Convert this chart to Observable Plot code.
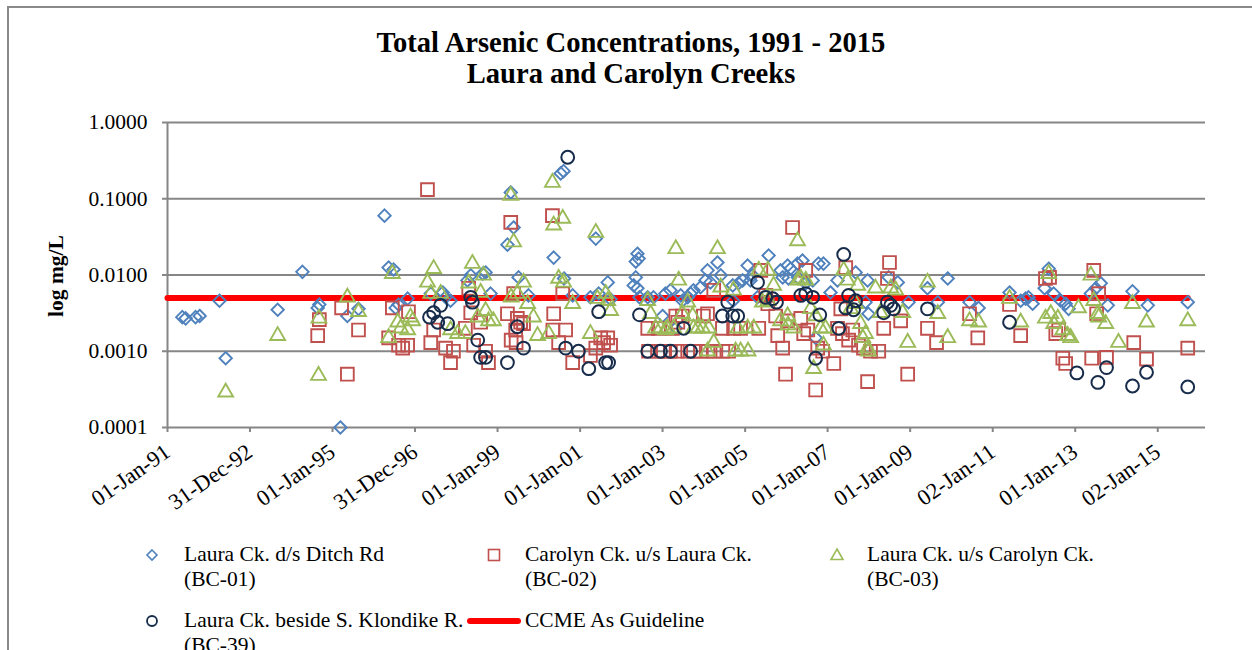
<!DOCTYPE html>
<html><head><meta charset="utf-8">
<script src="https://cdn.jsdelivr.net/npm/d3@7"></script>
<script src="https://cdn.jsdelivr.net/npm/@observablehq/plot@0.6"></script>
<style>
body{margin:0;background:#fff;}
#wrap{position:relative;width:1252px;height:650px;overflow:hidden;font-family:"Liberation Serif",serif;color:#000;}
#frame{position:absolute;left:7px;top:6px;width:1400px;height:800px;border-left:2px solid #8a8a8a;border-top:2px solid #8a8a8a;}
#chart{position:absolute;left:0;top:0;}
#title{position:absolute;left:0;width:1262px;top:27px;text-align:center;font-weight:bold;font-size:28.6px;line-height:31px;}
#ylab{position:absolute;left:56px;top:276px;transform:translate(-50%,-50%) rotate(-90deg);font-weight:bold;font-size:21.5px;white-space:nowrap;}
.lg{position:absolute;font-size:21.5px;line-height:25px;white-space:nowrap;}
.sw{position:absolute;}
</style>
</head><body>
<div id="wrap">
<div id="frame"></div>
<div id="chart"></div>
<div id="title">Total Arsenic Concentrations, 1991 - 2015<br>Laura and Carolyn Creeks</div>
<div id="ylab">log mg/L</div>
<div id="legend"></div>
</div>
<script>
// ---- data: [decimal year, mg/L] ----
const bc01 = [[1991.36,0.0028],[1991.44,0.0027],[1991.68,0.0028],[1991.78,0.0029],[1992.26,0.0046],[1992.41,0.00081],[1993.67,0.0035],[1994.27,0.011],[1994.64,0.0037],[1994.68,0.0041],[1995.19,0.0001],[1995.36,0.0029],[1995.63,0.0036],[1996.26,0.060],[1996.36,0.0125],[1996.48,0.0118],[1996.53,0.0037],[1996.60,0.0041],[1996.82,0.0049],[1997.38,0.0057],[1997.67,0.0059],[1997.74,0.0051],[1997.86,0.0046],[1998.27,0.0085],[1998.35,0.0099],[1998.64,0.0104],[1998.71,0.0108],[1998.83,0.0057],[1999.24,0.025],[1999.32,0.121],[1999.39,0.042],[1999.51,0.0093],[1999.75,0.0054],[2000.36,0.0169],[2000.53,0.215],[2000.60,0.23],[2000.61,0.0090],[2000.82,0.0054],[2001.25,0.0051],[2001.38,0.030],[2001.45,0.0057],[2001.67,0.0080],[2001.74,0.0048],[2002.30,0.0073],[2002.35,0.015],[2002.35,0.0093],[2002.39,0.019],[2002.39,0.0067],[2002.42,0.0164],[2002.44,0.0051],[2002.64,0.0051],[2002.78,0.0051],[2003.00,0.0029],[2003.07,0.0057],[2003.19,0.0063],[2003.32,0.0020],[2003.44,0.0054],[2003.48,0.0046],[2003.61,0.0051],[2003.68,0.0057],[2003.75,0.0063],[2003.92,0.0069],[2004.04,0.0085],[2004.09,0.0115],[2004.16,0.0080],[2004.33,0.0146],[2004.41,0.0099],[2004.70,0.0073],[2004.71,0.0046],[2004.84,0.0078],[2004.94,0.0085],[2005.06,0.0133],[2005.13,0.0085],[2005.18,0.0099],[2005.30,0.0051],[2005.57,0.018],[2005.86,0.0115],[2005.91,0.0093],[2006.03,0.0133],[2006.05,0.0090],[2006.10,0.0121],[2006.27,0.0141],[2006.28,0.0093],[2006.39,0.0155],[2006.47,0.0078],[2006.64,0.0085],[2006.71,0.0015],[2006.78,0.0141],[2006.90,0.0141],[2007.07,0.0059],[2007.24,0.0085],[2007.68,0.0108],[2007.92,0.0044],[2007.97,0.0085],[2007.99,0.0031],[2008.48,0.0093],[2008.70,0.0080],[2008.96,0.0044],[2009.42,0.0067],[2009.67,0.0044],[2009.91,0.0090],[2010.44,0.0044],[2010.66,0.0037],[2011.41,0.0059],[2011.68,0.0046],[2011.80,0.0049],[2011.87,0.0051],[2011.97,0.0042],[2012.26,0.0067],[2012.36,0.0121],[2012.48,0.0057],[2012.65,0.0046],[2012.77,0.0042],[2012.84,0.0036],[2013.38,0.0057],[2013.50,0.0067],[2013.62,0.0078],[2013.79,0.0040],[2014.39,0.0061],[2014.76,0.0040],[2015.73,0.0044]];

const bc02 = [[1994.64,0.0016],[1994.68,0.0026],[1995.22,0.0037],[1995.36,0.00050],[1995.63,0.0019],[1996.36,0.0015],[1996.45,0.0037],[1996.60,0.0012],[1996.70,0.0011],[1996.82,0.0012],[1996.84,0.0033],[1997.30,0.132],[1997.38,0.0013],[1997.45,0.0019],[1997.74,0.0011],[1997.86,0.00071],[1997.93,0.0010],[1998.22,0.0020],[1998.30,0.0067],[1998.35,0.0032],[1998.42,0.0012],[1998.59,0.0024],[1998.71,0.0010],[1998.78,0.00071],[1999.24,0.0031],[1999.32,0.049],[1999.33,0.0014],[1999.39,0.0057],[1999.44,0.0019],[1999.45,0.0013],[1999.48,0.0027],[1999.56,0.0024],[1999.63,0.0023],[2000.33,0.060],[2000.34,0.0019],[2000.36,0.0031],[2000.48,0.0013],[2000.58,0.0057],[2000.65,0.0019],[2000.82,0.00071],[2001.25,0.00088],[2001.38,0.0011],[2001.50,0.0015],[2001.57,0.0013],[2001.67,0.0015],[2001.74,0.0012],[2002.64,0.0020],[2002.66,0.0010],[2002.88,0.0010],[2002.90,0.0020],[2003.02,0.0010],[2003.19,0.0010],[2003.24,0.0020],[2003.32,0.0029],[2003.36,0.0010],[2003.37,0.0024],[2003.48,0.0029],[2003.61,0.0010],[2003.75,0.0010],[2003.92,0.0010],[2003.99,0.0029],[2004.09,0.0031],[2004.10,0.0010],[2004.24,0.0063],[2004.25,0.0010],[2004.45,0.0020],[2004.46,0.0010],[2004.60,0.0010],[2004.72,0.0020],[2004.89,0.0020],[2005.33,0.0020],[2005.38,0.0115],[2005.50,0.0054],[2005.55,0.0042],[2005.74,0.0029],[2005.79,0.0016],[2005.91,0.0011],[2005.98,0.00050],[2006.03,0.0025],[2006.15,0.042],[2006.35,0.0027],[2006.42,0.0017],[2006.47,0.0115],[2006.52,0.0019],[2006.71,0.00031],[2006.76,0.0011],[2006.88,0.0010],[2007.15,0.00069],[2007.24,0.0020],[2007.32,0.0036],[2007.36,0.0017],[2007.44,0.0125],[2007.51,0.0014],[2007.61,0.0019],[2007.75,0.0012],[2007.87,0.0011],[2007.97,0.00040],[2008.04,0.0010],[2008.24,0.0010],[2008.36,0.0020],[2008.45,0.0090],[2008.50,0.0146],[2008.77,0.0025],[2008.94,0.00050],[2009.42,0.0020],[2009.64,0.0013],[2010.44,0.0031],[2010.64,0.0015],[2011.41,0.0041],[2011.68,0.0016],[2012.28,0.0090],[2012.38,0.0093],[2012.53,0.0017],[2012.60,0.0019],[2012.70,0.00081],[2012.77,0.00069],[2013.40,0.00081],[2013.45,0.0115],[2013.52,0.0031],[2013.57,0.0057],[2013.76,0.00083],[2014.42,0.0013],[2014.73,0.00079],[2015.73,0.0011]];

const bc03 = [[1992.41,0.00029],[1993.67,0.0016],[1994.66,0.00048],[1994.67,0.0027],[1995.36,0.0051],[1995.63,0.0033],[1996.36,0.0015],[1996.45,0.0104],[1996.58,0.0024],[1996.65,0.0020],[1996.82,0.0019],[1996.89,0.0028],[1996.94,0.0025],[1997.30,0.0080],[1997.38,0.0057],[1997.45,0.0121],[1997.62,0.0057],[1997.86,0.0019],[1998.03,0.0017],[1998.22,0.0017],[1998.30,0.0078],[1998.39,0.0141],[1998.52,0.0028],[1998.59,0.0059],[1998.66,0.0099],[1998.71,0.0034],[1998.78,0.0025],[1998.90,0.0025],[1999.32,0.110],[1999.33,0.0051],[1999.39,0.027],[1999.48,0.0057],[1999.63,0.0080],[1999.73,0.0042],[1999.87,0.0028],[1999.97,0.0016],[2000.24,0.0017],[2000.33,0.163],[2000.36,0.045],[2000.48,0.0090],[2000.58,0.055],[2000.60,0.0080],[2000.82,0.0042],[2001.25,0.0017],[2001.38,0.036],[2001.42,0.0049],[2001.62,0.0057],[2001.67,0.0046],[2001.74,0.0034],[2002.64,0.0046],[2002.71,0.0031],[2002.83,0.0020],[2002.95,0.0020],[2003.07,0.0019],[2003.12,0.0020],[2003.27,0.0020],[2003.32,0.022],[2003.39,0.0085],[2003.48,0.0031],[2003.61,0.0044],[2003.73,0.0029],[2003.75,0.0020],[2003.85,0.0020],[2003.97,0.0020],[2004.09,0.0010],[2004.12,0.0020],[2004.24,0.0013],[2004.33,0.022],[2004.41,0.0069],[2004.72,0.0063],[2004.77,0.0010],[2004.82,0.0020],[2004.89,0.0010],[2005.06,0.0020],[2005.07,0.0010],[2005.21,0.0020],[2005.33,0.0115],[2005.42,0.0044],[2005.55,0.0115],[2005.56,0.0046],[2005.69,0.0073],[2005.86,0.0025],[2006.03,0.0029],[2006.04,0.0022],[2006.18,0.0020],[2006.27,0.028],[2006.28,0.0085],[2006.35,0.0090],[2006.47,0.0085],[2006.59,0.0036],[2006.66,0.00059],[2006.71,0.0029],[2006.83,0.0020],[2006.90,0.0012],[2006.95,0.0020],[2007.39,0.0115],[2007.48,0.0085],[2007.56,0.0036],[2007.68,0.0042],[2007.73,0.0073],[2007.80,0.0023],[2007.85,0.0015],[2007.92,0.0017],[2007.97,0.0011],[2007.99,0.0010],[2008.16,0.0067],[2008.28,0.0032],[2008.53,0.0067],[2008.65,0.0063],[2008.82,0.0032],[2008.94,0.0013],[2009.42,0.0080],[2009.67,0.0031],[2009.91,0.0015],[2010.44,0.0025],[2010.66,0.0024],[2011.41,0.0049],[2011.68,0.0024],[2012.28,0.0027],[2012.36,0.0104],[2012.41,0.0031],[2012.48,0.0023],[2012.58,0.0027],[2012.70,0.0019],[2012.82,0.0016],[2012.89,0.0015],[2013.08,0.0037],[2013.38,0.0099],[2013.45,0.0046],[2013.55,0.0031],[2013.57,0.0028],[2013.74,0.0023],[2014.05,0.0013],[2014.39,0.0042],[2014.73,0.0024],[2015.73,0.0025]];

const bc39 = [[1997.35,0.0028],[1997.45,0.0032],[1997.55,0.0024],[1997.62,0.0040],[1997.79,0.0023],[1998.35,0.0051],[1998.39,0.0044],[1998.52,0.0014],[1998.59,0.00083],[1998.71,0.00083],[1999.24,0.00071],[1999.48,0.0021],[1999.63,0.0011],[2000.65,0.0011],[2000.70,0.35],[2000.96,0.0010],[2001.21,0.00059],[2001.45,0.0033],[2001.62,0.00071],[2001.69,0.00071],[2002.44,0.0030],[2002.64,0.0010],[2002.95,0.0010],[2003.19,0.0010],[2003.51,0.0020],[2003.68,0.0010],[2004.45,0.0029],[2004.58,0.0044],[2004.70,0.0029],[2004.82,0.0029],[2005.30,0.0080],[2005.50,0.0051],[2005.67,0.0049],[2005.76,0.0044],[2006.35,0.0054],[2006.47,0.0057],[2006.64,0.0051],[2006.71,0.00081],[2006.81,0.0030],[2007.27,0.0020],[2007.39,0.0186],[2007.44,0.0037],[2007.51,0.0054],[2007.63,0.0035],[2007.68,0.0046],[2008.36,0.0032],[2008.45,0.0044],[2008.53,0.0040],[2008.60,0.0036],[2009.42,0.0036],[2011.41,0.0024],[2013.04,0.00052],[2013.55,0.00039],[2013.76,0.00061],[2014.39,0.00035],[2014.73,0.00053],[2015.73,0.00034]];

const guidelineYears = [1991.0, 2015.73];
const guidelineValue = 0.005;

const xTickDates = ["1991-01-01","1992-12-31","1995-01-01","1996-12-31","1999-01-01","2001-01-01","2003-01-01","2005-01-01","2007-01-01","2009-01-01","2011-01-02","2013-01-01","2015-01-02"];
const xTickLabels = ["01-Jan-91","31-Dec-92","01-Jan-95","31-Dec-96","01-Jan-99","01-Jan-01","01-Jan-03","01-Jan-05","01-Jan-07","01-Jan-09","02-Jan-11","01-Jan-13","02-Jan-15"];
const yTicks = [0.0001, 0.001, 0.01, 0.1, 1];

const seriesNames = ["Laura Ck. d/s Ditch Rd", "(BC-01)", "Carolyn Ck. u/s Laura Ck.", "(BC-02)", "Laura Ck. u/s Carolyn Ck.", "(BC-03)", "Laura Ck. beside S. Klondike R.", "(BC-39)", "CCME As Guideline"];

// ---- helpers ----
const toDate = yr => { const y = Math.floor(yr); const a = Date.UTC(y,0,1), b = Date.UTC(y+1,0,1); return new Date(a + (yr - y) * (b - a)); };
const rows = s => s.map(([yr, v]) => ({date: toDate(yr), value: v}));
const tickDates = xTickDates.map(s => new Date(s + "T00:00:00Z"));
const labelOf = new Map(tickDates.map((d, i) => [+d, xTickLabels[i]]));
const guide = guidelineYears.map(yr => ({date: toDate(yr), value: guidelineValue}));

const GRAY = "#868686";
const C1 = "#4F81BD", C2 = "#C0504D", C3 = "#9BBB59", C4 = "#172B4A";

const chart = Plot.plot({
  width: 1252, height: 650,
  marginLeft: 167, marginRight: 47, marginTop: 122, marginBottom: 223,
  x: {type: "utc", domain: [toDate(1991.0), toDate(2016.16)]},
  y: {type: "log", domain: [0.0001, 1]},
  style: {fontFamily: "'Liberation Serif', serif", fontSize: "21px", color: "#000", background: "transparent", overflow: "visible"},
  marks: [
    Plot.gridY(yTicks, {stroke: GRAY, strokeOpacity: 1, strokeWidth: 2}),
    Plot.axisY(yTicks, {tickSize: 5, tickPadding: 15, stroke: GRAY, strokeWidth: 2, fill: "#000", tickFormat: d => d.toFixed(4), fontSize: 21.5, label: null}),
    Plot.ruleX([toDate(1991.0)], {stroke: GRAY, strokeWidth: 2}),
    Plot.axisX(tickDates, {tickSize: 5, tickPadding: 17, tickRotate: -35, stroke: GRAY, strokeWidth: 2, fill: "#000", tickFormat: d => labelOf.get(+d), fontSize: 22.5, label: null}),
    Plot.line(guide, {x: "date", y: "value", stroke: "#FF0000", strokeWidth: 6, strokeLinecap: "round"}),
    Plot.dot(rows(bc01), {x: "date", y: "value", symbol: "diamond2", r: 5.6, stroke: C1, strokeWidth: 1.9, fill: "none"}),
    Plot.dot(rows(bc02), {x: "date", y: "value", symbol: "square", r: 7.2, stroke: C2, strokeWidth: 1.9, fill: "none"}),
    Plot.dot(rows(bc03), {x: "date", y: "value", symbol: "triangle", r: 5.5, stroke: C3, strokeWidth: 1.9, fill: "none"}),
    Plot.dot(rows(bc39), {x: "date", y: "value", symbol: "circle", r: 6.4, stroke: C4, strokeWidth: 2, fill: "none"})
  ]
});
document.getElementById("chart").appendChild(chart);

// ---- legend ----
const L = document.getElementById("legend");
function sw(x, y, inner){ const d = document.createElement("div"); d.className = "sw"; d.style.left = (x - 14) + "px"; d.style.top = (y - 14) + "px";
  d.innerHTML = `<svg width="28" height="28" viewBox="-14 -14 28 28" style="overflow:visible">${inner}</svg>`; L.appendChild(d); }
function txt(x, y, html){ const d = document.createElement("div"); d.className = "lg"; d.style.left = x + "px"; d.style.top = (y - 13) + "px"; d.innerHTML = html; L.appendChild(d); }
sw(152, 555, `<path d="M0,-5L5,0L0,5L-5,0Z" fill="none" stroke="${C1}" stroke-width="1.6"/>`);
txt(184, 555, seriesNames[0] + "<br>" + seriesNames[1]);
sw(494, 555, `<rect x="-5.5" y="-5.5" width="11" height="11" fill="none" stroke="${C2}" stroke-width="1.6"/>`);
txt(525, 555, seriesNames[2] + "<br>" + seriesNames[3]);
sw(837, 555, `<path d="M0,-6L6,4.5L-6,4.5Z" fill="none" stroke="${C3}" stroke-width="1.6"/>`);
txt(867, 555, seriesNames[4] + "<br>" + seriesNames[5]);
sw(152, 621, `<circle r="5" fill="none" stroke="${C4}" stroke-width="1.8"/>`);
txt(184, 621, seriesNames[6] + "<br>" + seriesNames[7]);
sw(494, 621, `<line x1="-24" x2="24" y1="0" y2="0" stroke="#FF0000" stroke-width="6" stroke-linecap="round"/>`);
txt(525, 621, seriesNames[8]);
</script>
</body></html>
